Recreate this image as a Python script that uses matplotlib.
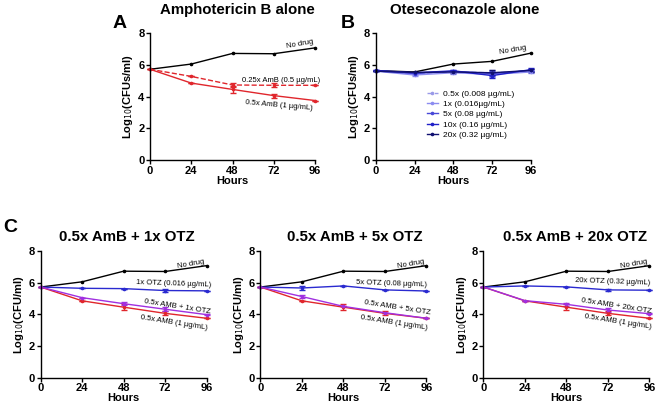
import matplotlib
matplotlib.use('Agg')
import matplotlib.pyplot as plt

plt.rcParams['font.family'] = ['Liberation Sans', 'DejaVu Sans']

hours = [0, 24, 48, 72, 96]

# panel A
no_drug = [5.72, 6.05, 6.72, 6.70, 7.07]
amb_025 = [5.72, 5.27, 4.73, 4.71, 4.71]
amb_025_err = [0, 0, 0.12, 0.12, 0]
amb_05 = [5.72, 4.85, 4.45, 4.06, 3.75]
amb_05_err = [0, 0, 0.2, 0.12, 0]

# panel B
nd_b = [5.64, 5.55, 6.05, 6.22, 6.74]
otz_labels = ['0.5x (0.008 µg/mL)', '1x (0.016µg/mL)', '5x (0.08 µg/mL)',
              '10x (0.16 µg/mL)', '20x (0.32 µg/mL)']
otz_vals = [
    [5.62, 5.45, 5.55, 5.50, 5.60],
    [5.60, 5.36, 5.50, 5.40, 5.55],
    [5.62, 5.45, 5.60, 5.45, 5.65],
    [5.65, 5.50, 5.62, 5.32, 5.70],
    [5.60, 5.52, 5.55, 5.50, 5.65],
]
otz_err = [0, 0.05, 0.08, 0.15, 0.08]
otz_colors = ['#9a9ae8', '#8c8cf0', '#4848d8', '#2020c8', '#101070']
otz_styles = ['--', '-', '-', '-', '-']

# panel C
combo_titles = ['0.5x AmB + 1x OTZ', '0.5x AmB + 5x OTZ', '0.5x AmB + 20x OTZ']
otz_names = ['1x OTZ (0.016 µg/mL)', '5x OTZ (0.08 µg/mL)', '20x OTZ (0.32 µg/mL)']
combo_names = ['0.5x AMB + 1x OTZ', '0.5x AMB + 5x OTZ', '0.5x AMB + 20x OTZ']
otz_c = [
    [5.72, 5.64, 5.62, 5.50, 5.48],
    [5.72, 5.66, 5.79, 5.54, 5.47],
    [5.72, 5.79, 5.73, 5.54, 5.52],
]
otz_c_err = [
    [0, 0, 0, 0.1, 0],
    [0, 0.12, 0, 0, 0],
    [0, 0, 0, 0.08, 0],
]
combo = [
    [5.72, 5.05, 4.67, 4.32, 3.98],
    [5.72, 5.12, 4.50, 4.10, 3.75],
    [5.72, 4.86, 4.63, 4.27, 4.04],
]
combo_err = [
    [0, 0, 0.1, 0.12, 0.05],
    [0, 0.08, 0, 0, 0],
    [0, 0, 0.1, 0.12, 0.05],
]

RED = '#e0262c'
PURPLE = '#a030e0'
BLUE = '#2a2ad0'
FS = 5.5


def style_axes(ax, ylabel):
    ax.set_xlim(0, 96)
    ax.set_ylim(0, 8)
    ax.set_xticks(hours)
    ax.set_yticks([0, 2, 4, 6, 8])
    for s in ['top', 'right']:
        ax.spines[s].set_visible(False)
    for s in ['left', 'bottom']:
        ax.spines[s].set_linewidth(1.0)
    ax.tick_params(length=3, width=1, labelsize=8, pad=1)
    for lab in ax.get_xticklabels() + ax.get_yticklabels():
        lab.set_fontweight('bold')
    ax.set_xlabel('Hours', fontsize=8, fontweight='bold', labelpad=0)
    ax.set_ylabel(ylabel, fontsize=8, fontweight='bold', labelpad=2)


def line(ax, y, color, err=None, ls='-', label=None):
    ax.errorbar(hours, y, yerr=err, color=color, ls=ls, lw=1.0, marker='o',
                ms=1.6, capsize=2, elinewidth=1, capthick=1, clip_on=False)
    if label:
        ax.plot([], [], color=color, ls=ls, lw=1.0, marker='o', ms=1.6, label=label)


fig = plt.figure(figsize=(6.56, 4.04), dpi=100)

# A
axA = fig.add_axes([0.2287, 0.604, 0.2515, 0.314])
line(axA, no_drug, 'black')
line(axA, amb_025, RED, amb_025_err, '--')
line(axA, amb_05, RED, amb_05_err)
style_axes(axA, 'Log$_{10}$(CFUs/ml)')
axA.text(87, 7.3, 'No drug', fontsize=FS, rotation=10, ha='center', va='center')
axA.text(76, 4.8, '0.25x AmB (0.5 µg/mL)', fontsize=FS, ha='center', va='bottom')
axA.text(75, 3.45, '0.5x AmB (1 µg/mL)', fontsize=FS, rotation=-5, ha='center', va='center')
axA.set_title('Amphotericin B alone', fontsize=10.8, fontweight='bold', pad=14, x=0.53)
fig.text(0.172, 0.93, 'A', fontsize=14, fontweight='bold')

# B
axB = fig.add_axes([0.5727, 0.604, 0.2367, 0.314])
line(axB, nd_b, 'black')
for vals, lab, c, ls in zip(otz_vals, otz_labels, otz_colors, otz_styles):
    line(axB, vals, c, otz_err, ls, label=lab)
style_axes(axB, 'Log$_{10}$(CFUs/ml)')
axB.text(85, 6.95, 'No drug', fontsize=FS, rotation=10, ha='center', va='center')
axB.legend(loc='center', bbox_to_anchor=(0.61, 0.36), fontsize=6, frameon=False,
           handlelength=1.3, handletextpad=0.6, labelspacing=0.3)
axB.set_title('Oteseconazole alone', fontsize=10.8, fontweight='bold', pad=14, x=0.57)
fig.text(0.52, 0.93, 'B', fontsize=14, fontweight='bold')

# C
c_lefts = [0.062, 0.397, 0.737]
title_x = [0.52, 0.57, 0.55]
otz_pos = [(77, 5.62), (76, 5.62), (75, 5.72)]
combo_pos = [(79, 4.45), (79, 4.4), (77, 4.5)]
red_pos = [(77, 3.45), (77, 3.45), (78, 3.5)]
for i in range(3):
    ax = fig.add_axes([c_lefts[i], 0.065, 0.253, 0.314])
    line(ax, no_drug, 'black')
    line(ax, otz_c[i], BLUE, otz_c_err[i])
    line(ax, amb_05, RED, amb_05_err)
    line(ax, combo[i], PURPLE, combo_err[i])
    style_axes(ax, 'Log$_{10}$(CFU/ml)')
    ax.text(87, 7.15, 'No drug', fontsize=FS, rotation=10, ha='center', va='center')
    ax.text(*otz_pos[i], otz_names[i], fontsize=FS, rotation=-2, ha='center', va='bottom')
    ax.text(*combo_pos[i], combo_names[i], fontsize=FS, rotation=-9, ha='center', va='center')
    ax.text(*red_pos[i], '0.5x AMB (1 µg/mL)', fontsize=FS, rotation=-9, ha='center', va='center')
    ax.set_title(combo_titles[i], fontsize=10.8, fontweight='bold', pad=7, x=title_x[i])
fig.text(0.005, 0.425, 'C', fontsize=14, fontweight='bold')

fig.savefig('out.png', dpi=100)
